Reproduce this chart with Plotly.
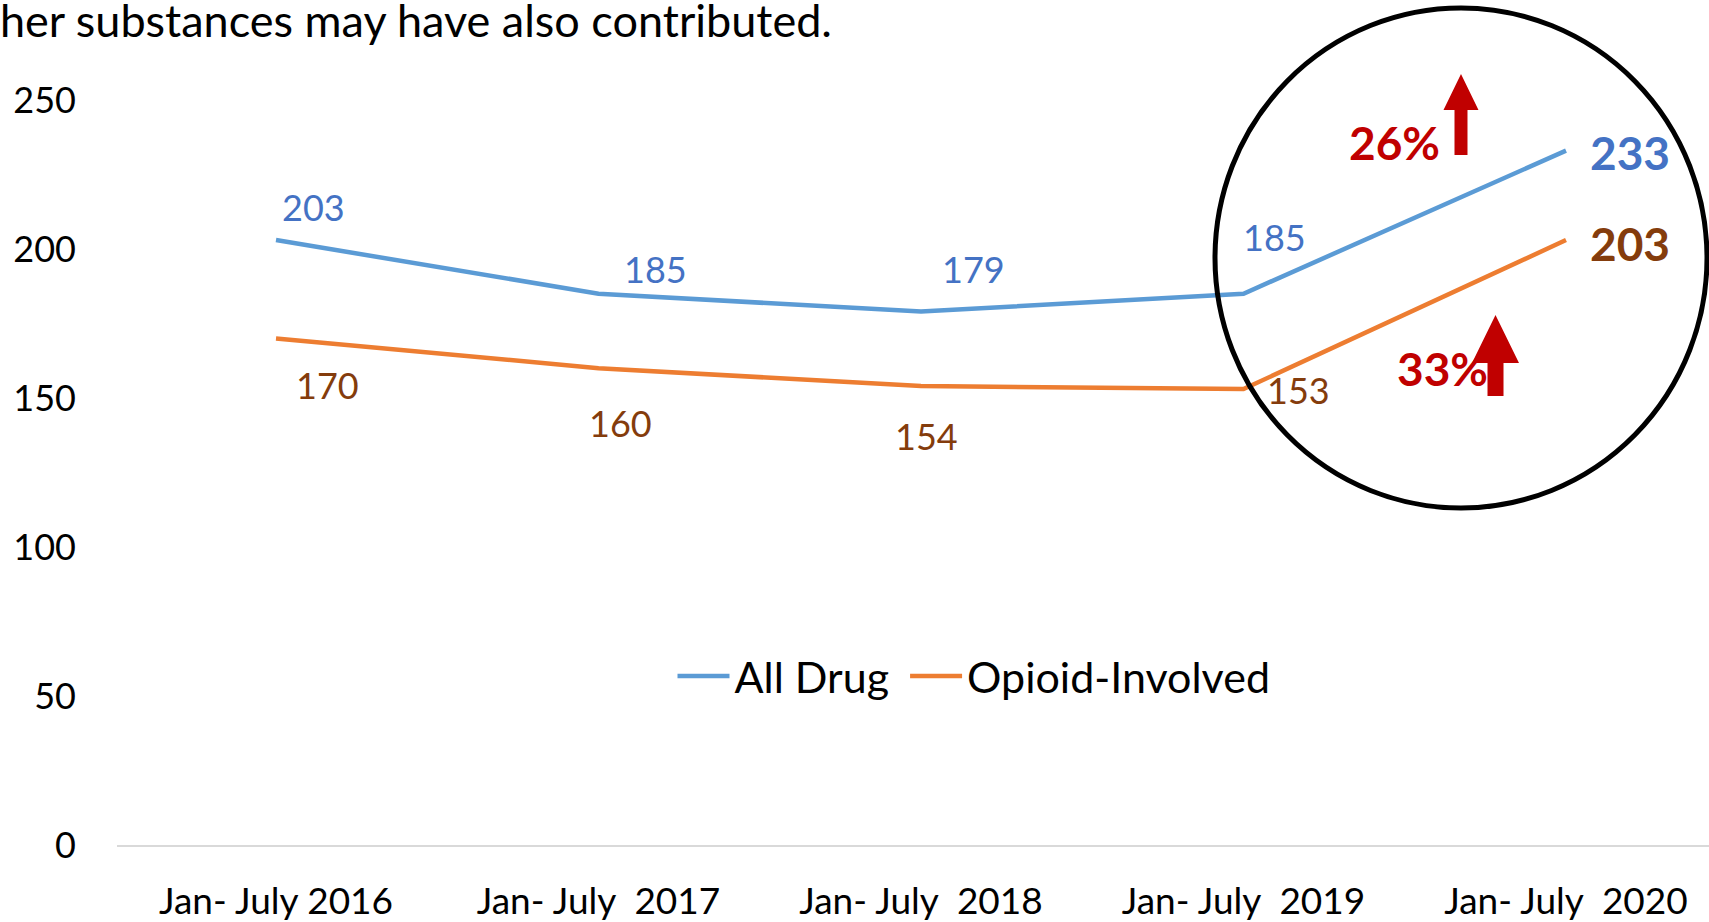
import plotly.graph_objects as go

# ---- data ----
categories = ["Jan- July 2016", "Jan- July\u00a0 2017", "Jan- July\u00a0 2018",
              "Jan- July\u00a0 2019", "Jan- July\u00a0 2020"]
all_drug = [203, 185, 179, 185, 233]
opioid = [170, 160, 154, 153, 203]
y_ticks = [0, 50, 100, 150, 200, 250]
pct_all = "26%"
pct_opioid = "33%"
subtitle = "her substances may have also contributed."

# ---- layout helpers (pixel -> paper) ----
W, H = 1709, 922
ML, MR, MT, MB = 117, 0, 100, 77
PW, PH = W - ML - MR, H - MT - MB
def xp(px):
    return (px - ML) / PW
def yp(py):
    return (H - MB - py) / PH

# category axis: first category centred at px 276, spacing 322.5 px
X0_PX, STEP_PX = 276, 322.5
x_range = [(ML - X0_PX) / STEP_PX, (W - MR - X0_PX) / STEP_PX]

FONT = "Lato, Open Sans, sans-serif"
BLUE_LINE, ORANGE_LINE = "#5B9BD5", "#ED7D31"
BLUE_TXT, BROWN_TXT, RED = "#4472C4", "#843C0C", "#C00000"

xidx = list(range(len(categories)))

fig = go.Figure()
fig.add_trace(go.Scatter(x=xidx, y=all_drug, mode="lines", name="All Drug\u00a0",
                         line=dict(color=BLUE_LINE, width=4.5)))
fig.add_trace(go.Scatter(x=xidx, y=opioid, mode="lines", name="Opioid-Involved",
                         line=dict(color=ORANGE_LINE, width=4.5)))

# data labels (offsets in pixels)
blue_off = [(37, 33), (57, 25), (52, 43), (31, 57), (64, -2)]
orange_off = [(51, -47), (22, -55), (5, -50), (55, -1), (64, -3)]
annotations = []
n = len(categories)
for i in range(n):
    last = i == n - 1
    annotations.append(dict(x=i, y=all_drug[i], xref="x", yref="y", text=str(all_drug[i]),
                            showarrow=False, xanchor="center", yanchor="middle",
                            xshift=blue_off[i][0], yshift=blue_off[i][1],
                            font=dict(family=FONT, size=46 if last else 36, color=BLUE_TXT,
                                      weight="bold" if last else "normal")))
    annotations.append(dict(x=i, y=opioid[i], xref="x", yref="y", text=str(opioid[i]),
                            showarrow=False, xanchor="center", yanchor="middle",
                            xshift=orange_off[i][0], yshift=orange_off[i][1],
                            font=dict(family=FONT, size=46 if last else 36, color=BROWN_TXT,
                                      weight="bold" if last else "normal")))

annotations.append(dict(x=xp(0), y=yp(20), xref="paper", yref="paper", text=subtitle,
                        showarrow=False, xanchor="left", yanchor="middle", xshift=-2,
                        font=dict(family=FONT, size=45, color="black")))
annotations.append(dict(x=xp(1394), y=yp(143), xref="paper", yref="paper", text=pct_all,
                        showarrow=False, xanchor="center", yanchor="middle",
                        font=dict(family=FONT, size=46, color=RED, weight="bold")))
annotations.append(dict(x=xp(1442), y=yp(368), xref="paper", yref="paper", text=pct_opioid,
                        showarrow=False, xanchor="center", yanchor="middle",
                        font=dict(family=FONT, size=46, color=RED, weight="bold")))

def arrow_path(cx, tip, base, bottom, hw, sw):
    pts = [(cx, tip), (cx + hw, base), (cx + sw, base), (cx + sw, bottom),
           (cx - sw, bottom), (cx - sw, base), (cx - hw, base)]
    return "M " + " L ".join(f"{xp(a):.5f},{yp(b):.5f}" for a, b in pts) + " Z"

shapes = [
    dict(type="circle", xref="paper", yref="paper",
         x0=xp(1215), x1=xp(1707), y0=yp(508), y1=yp(8),
         line=dict(color="black", width=5)),
    dict(type="path", xref="paper", yref="paper",
         path=arrow_path(1461, 74, 110, 155, 17.5, 6.5),
         fillcolor=RED, line=dict(width=0)),
    dict(type="path", xref="paper", yref="paper",
         path=arrow_path(1495.5, 315, 363, 396, 23.5, 8),
         fillcolor=RED, line=dict(width=0)),
]

fig.update_layout(
    width=W, height=H,
    margin=dict(l=ML, r=MR, t=MT, b=MB, autoexpand=False),
    paper_bgcolor="white", plot_bgcolor="white",
    font=dict(family=FONT, color="black"),
    xaxis=dict(range=x_range, tickmode="array", tickvals=xidx, ticktext=categories,
               showgrid=False, zeroline=False, showline=True, linecolor="#D9D9D9", linewidth=2,
               ticks="", ticklabelstandoff=23, automargin=False,
               tickfont=dict(family=FONT, size=37, color="black")),
    yaxis=dict(range=[0, 250], tickmode="array", tickvals=y_ticks, showgrid=False,
               zeroline=False, showline=False, ticks="", ticklabelstandoff=40, automargin=False,
               tickfont=dict(family=FONT, size=36, color="black")),
    legend=dict(orientation="h", x=xp(974), xanchor="center", y=yp(676), yanchor="middle",
                font=dict(family=FONT, size=43, color="black"), bgcolor="rgba(0,0,0,0)",
                itemwidth=52),
    showlegend=True,
    annotations=annotations,
    shapes=shapes,
)

fig.write_html("out.html", config={"displayModeBar": False},
               post_script="document.body.style.margin='0';document.body.style.overflow='hidden';")
